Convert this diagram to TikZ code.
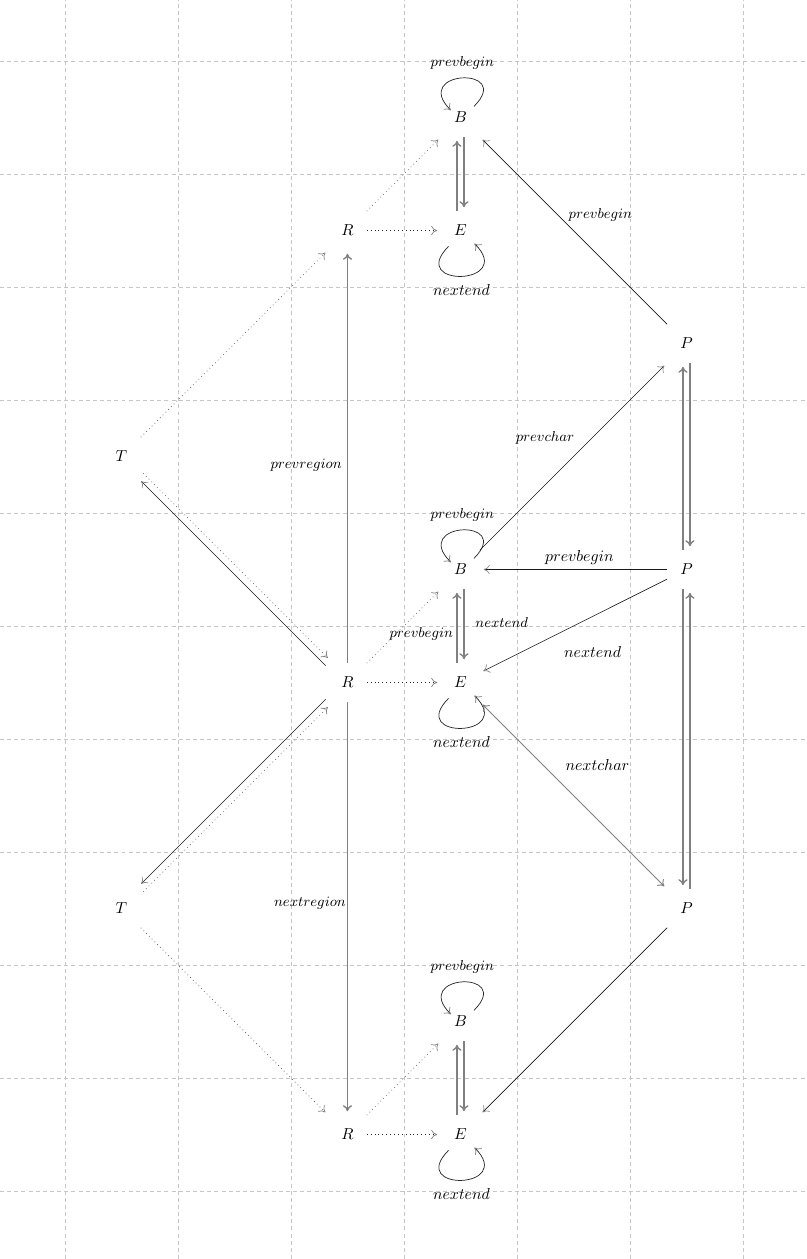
\documentclass[tikz,border=0pt]{standalone}
\usetikzlibrary{arrows.meta}
\begin{document}
\begin{tikzpicture}[x=2.5cm,y=2.5cm,
  nd/.style={rectangle, minimum size=0.84cm, inner sep=0pt},
  arr/.style={-{To[color=gray,length=3.8pt,width=5.8pt]}, shorten >=2.5pt},
  dbl/.style={{To[color=gray,length=3.8pt,width=5.8pt]}-{To[color=gray,length=3.8pt,width=5.8pt]}, shorten >=2.5pt, shorten <=2.5pt},
  gline/.style={arr, draw=gray, line width=0.85pt},
  bline/.style={arr, draw=black!90, line width=0.4pt},
  dline/.style={arr, draw=black!60, line width=0.45pt, dotted},
  hdot/.style={arr, draw=black!85, line width=0.45pt, dotted},
  loopst/.style={-{To[color=gray,length=3.8pt,width=5.8pt]}, draw=black!85, line width=0.45pt},
  sl/.style={font=\small, inner sep=0pt},
  nl/.style={font=\normalsize, inner sep=0pt},
  gridst/.style={draw=gray!45, dash pattern=on 2.5pt off 2pt, line width=0.4pt},
  bloop/.style={out=45,in=135,distance=1.27cm},
  eloop/.style={out=-135,in=-45,distance=1.31cm}
]
\useasboundingbox (-0.575,-10.602) rectangle (6.558,0.540);
\draw[gridst, step=1] (-0.575,-10.602) grid (6.558,0.540);

% nodes
\node[nd] (T1) at (0.5,-3.5) {$T$};
\node[nd] (T2) at (0.5,-7.5) {$T$};
\node[nd] (R1) at (2.5,-1.5) {$R$};
\node[nd] (R2) at (2.5,-5.5) {$R$};
\node[nd] (R3) at (2.5,-9.5) {$R$};
\node[nd] (B1) at (3.5,-0.5) {$B$};
\node[nd] (E1) at (3.5,-1.5) {$E$};
\node[nd] (B2) at (3.5,-4.5) {$B$};
\node[nd] (E2) at (3.5,-5.5) {$E$};
\node[nd] (B3) at (3.5,-8.5) {$B$};
\node[nd] (E3) at (3.5,-9.5) {$E$};
\node[nd] (P1) at (5.5,-2.5) {$P$};
\node[nd] (P2) at (5.5,-4.5) {$P$};
\node[nd] (P3) at (5.5,-7.5) {$P$};

% loops
\foreach \b in {B1,B2,B3}
  \draw[loopst] ([shift={(8.5pt,7pt)}]\b.center) to[bloop] node[sl, yshift=9.4pt] {$prevbegin$} ([shift={(-6pt,4.5pt)}]\b.center);
\foreach \e in {E1,E2,E3}
  \draw[loopst] ([shift={(-7.5pt,-10pt)}]\e.center) to[eloop] node[nl, yshift=-8.8pt] {$nextend$} ([shift={(8.8pt,-8.2pt)}]\e.center);

% B-E double arrows
\draw[gline, transform canvas={xshift=2.2pt}] (B1) -- (E1);
\draw[gline, transform canvas={xshift=-2.2pt}] (E1) -- (B1);
\draw[gline, transform canvas={xshift=2.2pt}] (B2) -- node[sl, xshift=23.8pt, yshift=2.4pt] {$nextend$} (E2);
\draw[gline, transform canvas={xshift=-2.2pt}] (E2) -- (B2);
\draw[gline, transform canvas={xshift=2.2pt}] (B3) -- (E3);
\draw[gline, transform canvas={xshift=-2.2pt}] (E3) -- (B3);

% P double arrows
\draw[gline, transform canvas={xshift=2.2pt}] (P1) -- (P2);
\draw[gline, transform canvas={xshift=-2.2pt}] (P2) -- (P1);
\draw[gline, transform canvas={xshift=-2.2pt}] (P2) -- (P3);
\draw[gline, transform canvas={xshift=2.2pt}] (P3) -- (P2);

% R vertical
\draw[gline] (R2) -- node[sl, xshift=-26pt, yshift=-5.3pt] {$prevregion$} (R1);
\draw[gline] (R2) -- node[sl, xshift=-23.6pt, yshift=3.4pt] {$nextregion$} (R3);

% P edges
\draw[bline] (P1) -- node[sl, xshift=17pt, yshift=10pt] {$prevbegin$} (B1);
\draw[bline] (B2) -- node[sl, xshift=-17.9pt, yshift=11.6pt] {$prevchar$} (P1);
\draw[bline] (P2) -- node[nl, xshift=3.8pt, yshift=7.8pt] {$prevbegin$} (B2);
\draw[bline] (P2) -- node[nl, xshift=12.1pt, yshift=-16.5pt] {$nextend$} (E2);
\draw[dbl, draw=gray, line width=0.6pt] (E2) -- node[nl, xshift=15.1pt, yshift=19.2pt] {$nextchar$} (P3);
\draw[bline] (P3) -- (E3);

% R to B/E dotted
\draw[dline] (R1) -- (B1);
\draw[hdot] (R1) -- (E1);
\draw[dline] (R2) -- node[sl, xshift=10.9pt, yshift=-4.9pt] {$prevbegin$} (B2);
\draw[hdot] (R2) -- (E2);
\draw[dline] (R3) -- (B3);
\draw[hdot] (R3) -- (E3);

% T edges
\draw[dline] (T1) -- (R1);
\draw[dline, transform canvas={xshift=1.56pt, yshift=1.56pt}] (T1) -- (R2);
\draw[bline, transform canvas={xshift=-1.56pt, yshift=-1.56pt}] (R2) -- (T1);
\draw[dline, transform canvas={xshift=1.56pt, yshift=-1.56pt}] (T2) -- (R2);
\draw[bline, transform canvas={xshift=-1.56pt, yshift=1.56pt}] (R2) -- (T2);
\draw[dline] (T2) -- (R3);
\end{tikzpicture}
\end{document}
